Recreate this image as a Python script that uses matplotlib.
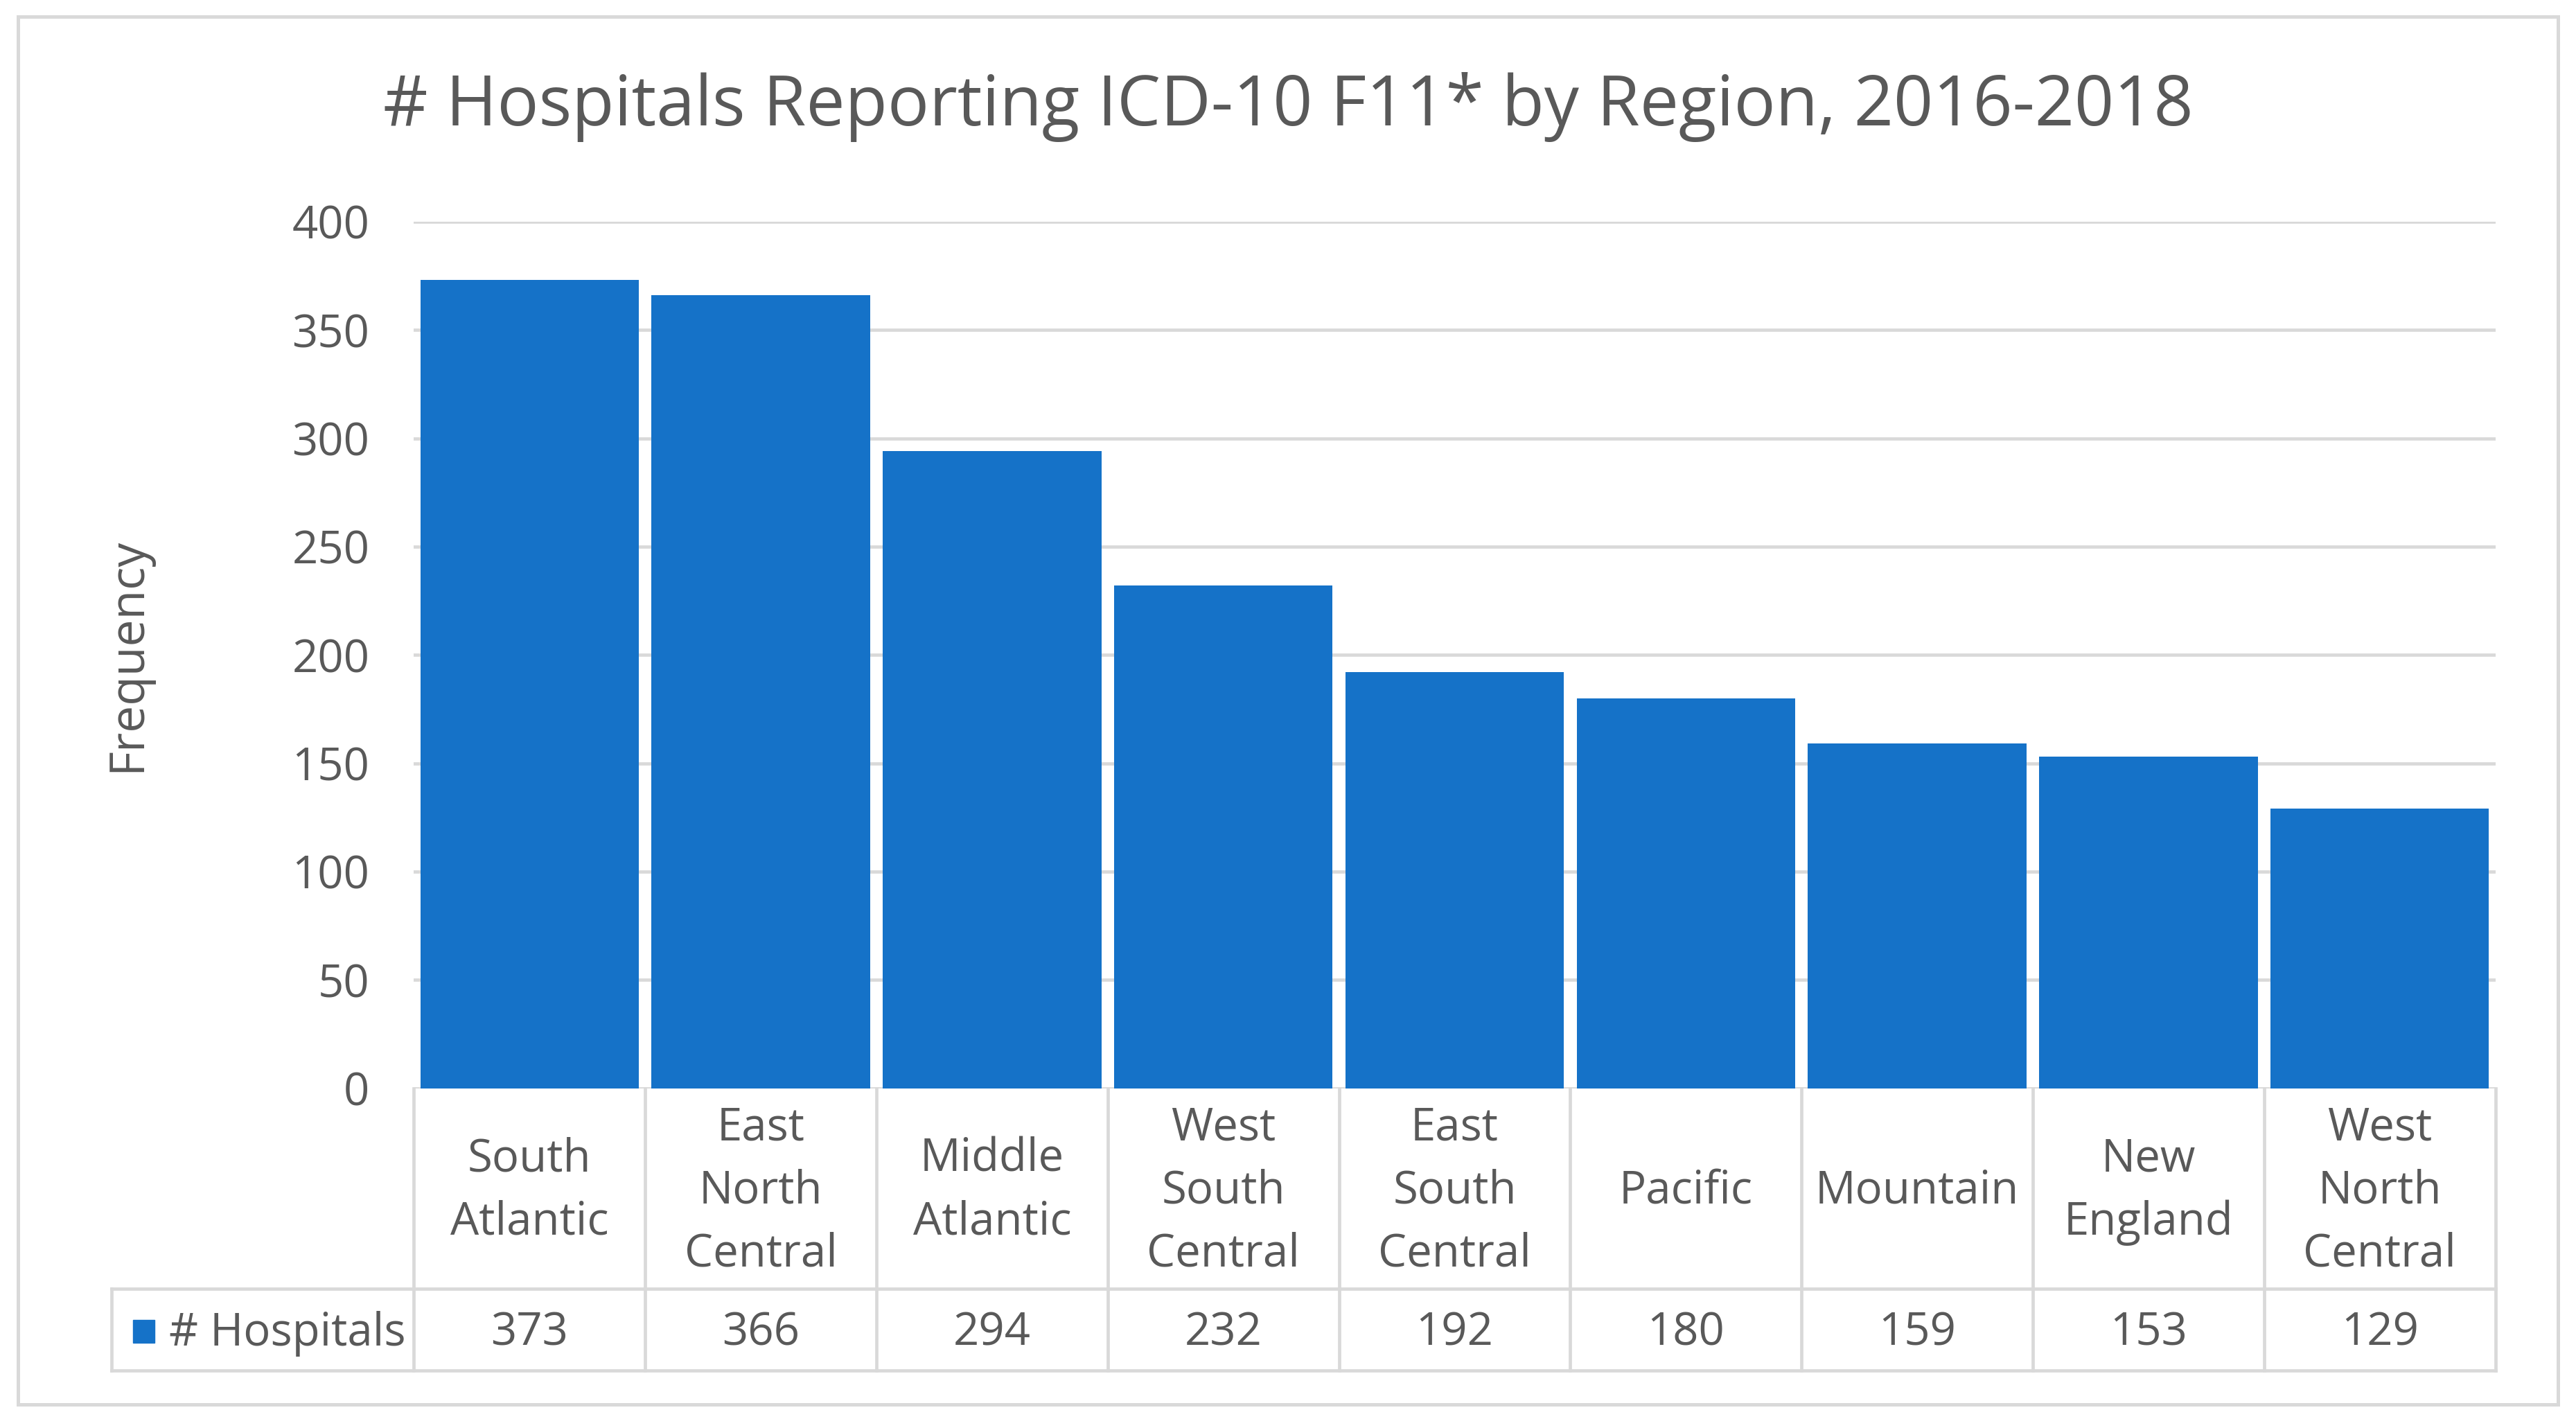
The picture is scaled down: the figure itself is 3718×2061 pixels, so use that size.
import matplotlib.pyplot as plt
from matplotlib.transforms import blended_transform_factory
from matplotlib.patches import Rectangle
from matplotlib.lines import Line2D

# --- DATA ---
regions = ["South\nAtlantic", "East\nNorth\nCentral", "Middle\nAtlantic", "West\nSouth\nCentral",
           "East\nSouth\nCentral", "Pacific", "Mountain", "New\nEngland", "West\nNorth\nCentral"]
hospitals = [373, 366, 294, 232, 192, 180, 159, 153, 129]
yticks = [0, 50, 100, 150, 200, 250, 300, 350, 400]
series_name = "# Hospitals"
title = "# Hospitals Reporting ICD-10 F11* by Region, 2016-2018"

BLUE = '#1572C8'
TEXT = '#595959'
GRID = '#D9D9D9'

plt.rcParams['font.family'] = ['Open Sans', 'DejaVu Sans']

fig = plt.figure(figsize=(37.18, 20.61), dpi=100)
ax = fig.add_axes([0.1607, 0.2379, 0.9687 - 0.1607, 0.8448 - 0.2379])

x = list(range(len(hospitals)))
ax.bar(x, hospitals, width=0.945, color=BLUE, zorder=3)
ax.set_xlim(-0.5, len(hospitals) - 0.5)
ax.set_ylim(0, 400)
ax.set_yticks(yticks)
ax.set_yticklabels([str(t) for t in yticks], fontsize=47, color=TEXT)
ax.tick_params(axis='y', length=0, pad=46)
ax.set_xticks([])
ax.grid(axis='y', color=GRID, linewidth=3.4, zorder=0)
for s in ax.spines.values():
    s.set_visible(False)
ax.set_ylabel("Frequency", fontsize=50, color=TEXT, va='center')
ax.yaxis.set_label_coords(-0.1375, 0.5)

fig.text(0.5, 0.925, title, ha='center', va='center', fontsize=72, color=TEXT)

# --- data table under the axis ---
tr = blended_transform_factory(ax.transData, fig.transFigure)
y_axis, y_mid, y_bot = 0.2379, 0.0977, 0.0403
x_leg = 0.0434
n = len(hospitals)

for i in range(n + 1):
    ax.add_line(Line2D([i - 0.5, i - 0.5], [y_axis, y_bot], transform=tr, color=GRID,
                       linewidth=3.4, clip_on=False))
for yy in (y_mid, y_bot):
    fig.add_artist(Line2D([x_leg, 0.9687], [yy, yy], color=GRID, linewidth=3.4))
fig.add_artist(Line2D([x_leg, x_leg], [y_mid, y_bot], color=GRID, linewidth=3.4))

for i, (lab, val) in enumerate(zip(regions, hospitals)):
    ax.text(i, (y_axis + y_mid) / 2 - 0.002, lab, transform=tr, ha='center', va='center',
            fontsize=47, color=TEXT, linespacing=1.5)
    ax.text(i, (y_mid + y_bot) / 2 - 0.003, str(val), transform=tr, ha='center', va='center',
            fontsize=47, color=TEXT)

# legend key in table
fig.add_artist(Rectangle((0.0517, 0.0598), 0.0083, 0.016, color=BLUE))
fig.text(0.0655, (y_mid + y_bot) / 2 - 0.003, series_name, ha='left', va='center', fontsize=47, color=TEXT)

# outer chart border
fig.add_artist(Rectangle((0.007, 0.0165), 0.986, 0.972, fill=False, edgecolor=GRID, linewidth=3.6))

fig.savefig('out.png', dpi=100)
